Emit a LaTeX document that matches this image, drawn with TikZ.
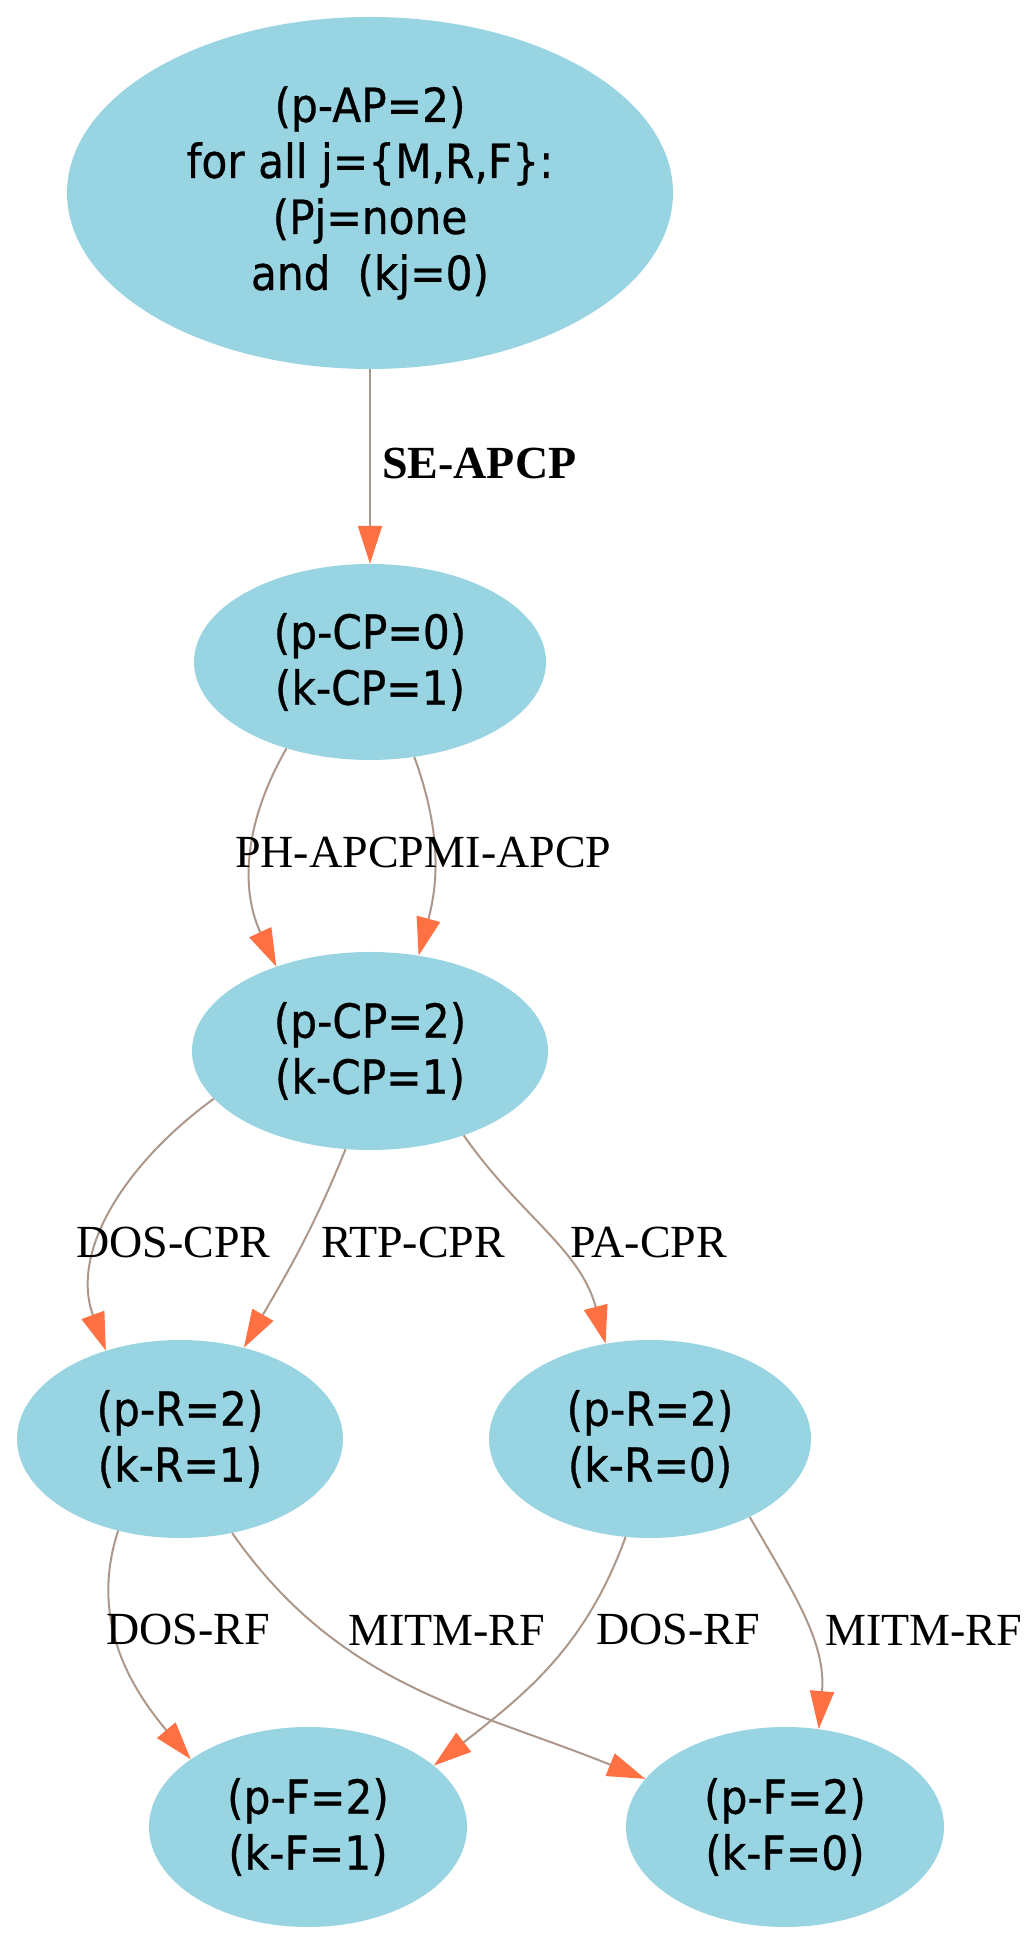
\documentclass[tikz,border=0pt]{standalone}
\usepackage{fontspec}
\usetikzlibrary{shapes.geometric,arrows.meta}
\newfontfamily\nodefont[FakeStretch=0.9,FakeBold=0.6]{DejaVu Sans}
\newfontfamily\lblfont{Liberation Serif}
\definecolor{nodefill}{RGB}{152,212,226}
\definecolor{edgec}{RGB}{172,152,138}
\definecolor{arrowc}{RGB}{255,112,67}
\begin{document}
\begin{tikzpicture}[x=1pt,y=1pt,
  state/.style={ellipse, fill=nodefill, inner sep=0pt, align=center, font=\nodefont\fontsize{47pt}{56pt}\selectfont},
  edge/.style={draw=edgec, line width=2pt, -{Triangle[length=38pt,width=24pt,color=arrowc]}},
  elabel/.style={anchor=west, inner sep=0pt, font=\lblfont\fontsize{46pt}{50pt}\selectfont}]
\useasboundingbox (0,0) rectangle (1034,1950);
\node[state, minimum width=606pt, minimum height=352pt] (top) at (370,1757) {(p-AP=2)\\for all j=\{M,R,F\}:\\(Pj=none\\and\ \ (kj=0)};
\node[state, minimum width=352pt, minimum height=196pt] (cp0) at (370,1288) {(p-CP=0)\\(k-CP=1)};
\node[state, minimum width=356pt, minimum height=198pt] (cp2) at (370,899) {(p-CP=2)\\(k-CP=1)};
\node[state, minimum width=326pt, minimum height=198pt] (r1) at (180,511) {(p-R=2)\\(k-R=1)};
\node[state, minimum width=322pt, minimum height=198pt] (r0) at (650,511) {(p-R=2)\\(k-R=0)};
\node[state, minimum width=318pt, minimum height=200pt] (f1) at (308,123) {(p-F=2)\\(k-F=1)};
\node[state, minimum width=318pt, minimum height=200pt] (f0) at (785,123) {(p-F=2)\\(k-F=0)};

\draw[edge] (top) -- (cp0);
\draw[edge] (cp0.226) to[out=240,in=115] (cp2.138);
\draw[edge] (cp0.295) to[out=290,in=75] (cp2.63);
\draw[edge] (cp2.197) to[out=216,in=110] (r1.130);
\draw[edge] (cp2.256) to[out=248,in=60] (r1.55);
\draw[edge] (cp2.318) to[out=305,in=105] (r0.115);
\draw[edge] (r1.236) to[out=252,in=130] (f1.150);
\draw[edge] (r1.299) to[out=305,in=158] (f0.161);
\draw[edge] (r0.256) to[out=250,in=38] (f1.26);
\draw[edge] (r0.322) to[out=300,in=85] (f0.71);

\node[elabel, font=\lblfont\bfseries\fontsize{46pt}{50pt}\selectfont] (lse) at (382,1486) {SE-APCP};
\node[elabel] (lph) at (235,1097) {PH-APCP};
\node[elabel] (lmi) at (lph.east) {MI-APCP};
\node[elabel] (ldc) at (76,707) {DOS-CPR};
\node[elabel] (lrt) at (321,707) {RTP-CPR};
\node[elabel] (lpa) at (570,707) {PA-CPR};
\node[elabel] (ld1) at (106,320) {DOS-RF};
\node[elabel] (lm1) at (348,320) {MITM-RF};
\node[elabel] (ld2) at (596,320) {DOS-RF};
\node[elabel] (lm2) at (825,320) {MITM-RF};
\end{tikzpicture}
\end{document}
